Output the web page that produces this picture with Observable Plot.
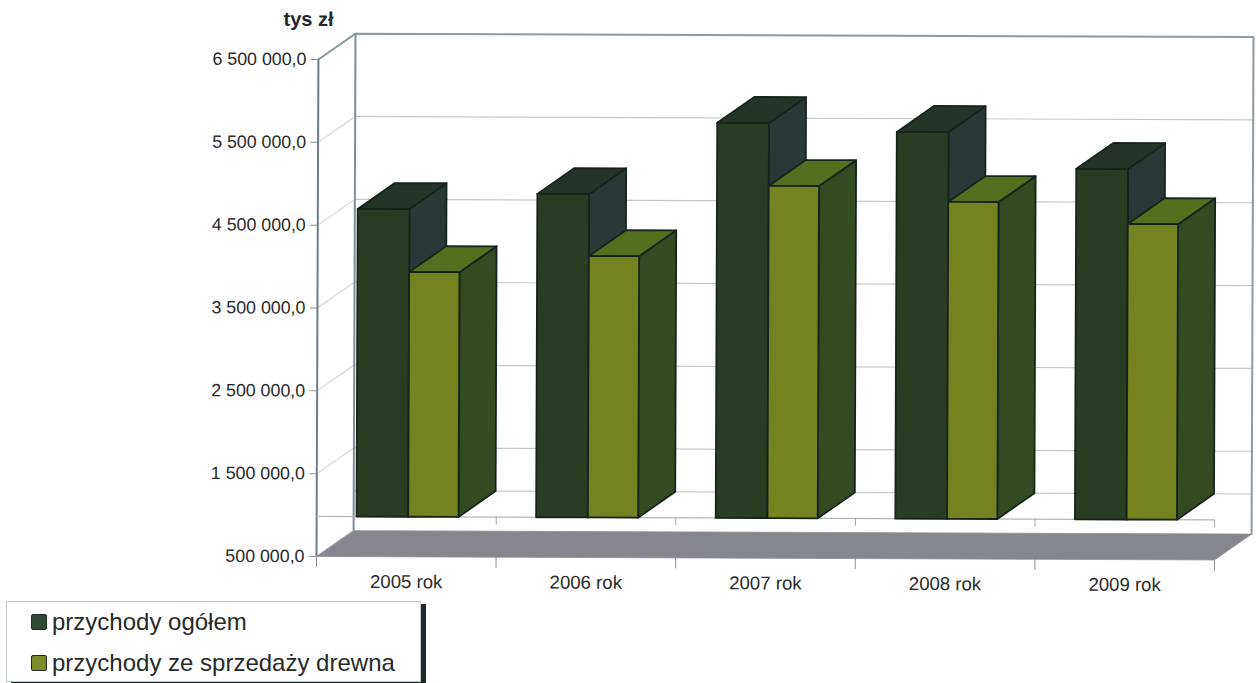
<!DOCTYPE html>
<html lang="pl">
<head>
<meta charset="utf-8">
<script src="https://cdn.jsdelivr.net/npm/d3@7"></script>
<script src="https://cdn.jsdelivr.net/npm/@observablehq/plot@0.6"></script>
<style>
html,body{margin:0;padding:0;background:#fff;overflow:hidden;}
#chart svg{display:block;transform:rotate(.22deg);transform-origin:316px 556px;overflow:visible;}
.legend{position:absolute;left:6px;top:601px;width:413px;height:79px;background:#fff;border:1px solid #c4c8c8;box-shadow:5px 3px 0 #1d2a2c;font:24px "Liberation Sans",Arial,sans-serif;color:#262a28;box-sizing:content-box;}
.row{position:absolute;left:24px;display:flex;align-items:center;height:24px;white-space:nowrap;}
.sw{display:inline-block;width:14px;height:14px;border:1.5px solid #1f2b22;border-radius:2px;margin-right:5px;}
</style>
</head>
<body>
<div id="chart"></div>
<div class="legend" id="legendBox"></div>
<script>
const categories = ["2005 rok", "2006 rok", "2007 rok", "2008 rok", "2009 rok"];
const totalRevenue = [4698000, 4887000, 5754000, 5653000, 5215000];
const timberRevenue = [3939000, 4140000, 4995000, 4810000, 4552000];
const seriesNames = ["przychody ogółem", "przychody ze sprzedaży drewna"];
const tickValues = [500000, 1500000, 2500000, 3500000, 4500000, 5500000, 6500000];
const unitLabel = ["tys zł"];
const barBase = 984000;        // level the columns stand on
const groupBounds = [0, 1, 2, 3, 4, 5];

// depth of the 3D box, in scale units
const depthX = 0.206, depthY = 314000;
const slots = [[0.222, 0.51], [0.51, 0.79]];
const palettes = [
  {front: "#2a3c23", top: "#253329", side: "#2a3837"},
  {front: "#74831f", top: "#52701e", side: "#344a20"}
];

const faces = [];
function face(id, color, pts) { pts.forEach(([x, y]) => faces.push({id, color, x, y})); }

categories.forEach((c, i) => {
  [totalRevenue, timberRevenue].forEach((vals, s) => {
    const x0 = i + slots[s][0], x1 = i + slots[s][1], v = vals[i], p = palettes[s];
    const id = `${c}-${s}`;
    face(id + "-side", p.side, [[x1, barBase], [x1, v], [x1 + depthX, v + depthY], [x1 + depthX, barBase + depthY]]);
    face(id + "-top", p.top, [[x0, v], [x1, v], [x1 + depthX, v + depthY], [x0 + depthX, v + depthY]]);
    face(id + "-front", p.front, [[x0, barBase], [x0, v], [x1, v], [x1, barBase]]);
  });
});

const floorPoly = [
  {x: 0, y: tickValues[0]}, {x: 5, y: tickValues[0]},
  {x: 5 + depthX, y: tickValues[0] + depthY}, {x: depthX, y: tickValues[0] + depthY}
];
const topValue = tickValues[tickValues.length - 1];
const wallFrame = [
  {x: 0, y: topValue}, {x: depthX, y: topValue + depthY}, {x: 5 + depthX, y: topValue + depthY}, {x: 5 + depthX, y: tickValues[0] + depthY}
];
const gridSide = tickValues.slice(1, -1).flatMap(v => [{v, x: 0, y: v}, {v, x: depthX, y: v + depthY}]);
const gridBack = tickValues.slice(1, -1).concat([barBase]);

const fmt = d3.formatLocale({decimal: ",", thousands: " ", grouping: [3]}).format(",.1f");
const pxPerUnit = 497 / 6000000;

const chart = Plot.plot({
  width: 1256, height: 600,
  marginLeft: 316, marginRight: 42, marginTop: 59, marginBottom: 44,
  style: {fontFamily: '"Liberation Sans",Arial,sans-serif', color: "#2a2a2a", background: "transparent"},
  x: {type: "linear", domain: [0, 5], axis: null},
  y: {type: "linear", domain: [500000, 6500000], axis: null},
  color: {type: "identity"},
  marks: [
    // wall gridlines
    Plot.line(gridSide, {x: "x", y: "y", z: "v", stroke: "#cfd2d2", strokeWidth: 1}),
    Plot.ruleY(gridBack, {x1: () => depthX, x2: () => 5 + depthX, y: d => d + depthY, stroke: "#c6c8c8", strokeWidth: 1.2}),
    // floor
    Plot.line(floorPoly, {x: "x", y: "y", fill: "#85878f", stroke: "#8d9094", strokeWidth: .8, curve: "linear-closed"}),
    // wall frame
    Plot.line(wallFrame, {x: "x", y: "y", stroke: "#8c9aa4", strokeWidth: 2}),
    Plot.ruleX([depthX], {y1: tickValues[0] + depthY, y2: topValue + depthY, stroke: "#7f8d98", strokeWidth: 2}),
    Plot.ruleX([0], {y1: tickValues[0], y2: topValue, stroke: "#6f7d88", strokeWidth: 2}),
    // base line with its ticks
    Plot.ruleY([barBase], {x1: () => 0, x2: () => 5, stroke: "#b4b6b6", strokeWidth: 1.2}),
    Plot.ruleX(groupBounds.slice(1), {y1: barBase, y2: barBase - 8 / pxPerUnit, stroke: "#a4a6a6", strokeWidth: 1}),
    // columns
    Plot.line(faces, {x: "x", y: "y", z: "id", fill: "color", stroke: "#17241c", strokeWidth: 1.8, strokeLinejoin: "round", curve: "linear-closed"}),
    // axes
    Plot.axisY({ticks: tickValues, tickFormat: fmt, anchor: "left", tickSize: 7, tickPadding: 5, fontSize: 17.8, stroke: "#8b8f90", label: null}),
    Plot.axisX({ticks: groupBounds, tickFormat: () => "", anchor: "bottom", tickSize: 11, stroke: "#8b8f90", label: null}),
    Plot.axisX({ticks: groupBounds.slice(0, -1).map(d => d + .5), tickFormat: d => categories[d - .5], anchor: "bottom", tickSize: 0, tickPadding: 18, fontSize: 18.6, label: null}),
    Plot.text(unitLabel, {x: () => 0, y: () => topValue, text: d => d, dx: -35, dy: -40, textAnchor: "start", fontWeight: "bold", fontSize: 20, fill: "#22282a"})
  ]
});
document.getElementById("chart").append(chart);

const legendBox = document.getElementById("legendBox");
const rowTops = [8, 49];
seriesNames.forEach((name, i) => {
  const row = document.createElement("div");
  row.className = "row";
  row.style.top = rowTops[i] + "px";
  const sw = document.createElement("span");
  sw.className = "sw";
  sw.style.background = ["#2f4a35", "#7a8b2a"][i];
  row.append(sw, document.createTextNode(name));
  legendBox.append(row);
});
</script>
</body>
</html>
